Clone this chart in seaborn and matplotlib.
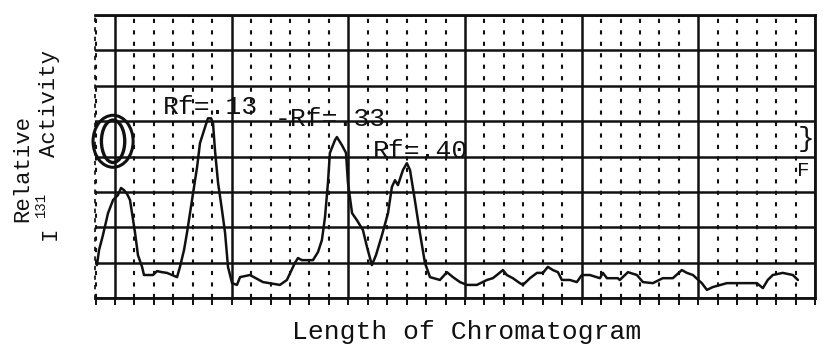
import matplotlib
matplotlib.use("Agg")
import matplotlib.pyplot as plt
from matplotlib.patches import Ellipse
import numpy as np
import seaborn as sns

# trace: position along the strip (minor grid units)
# and relative I-131 activity (major grid units)
length = [
    -0.93, -0.82, -0.62, -0.36, -0.10, 0.15, 0.31, 0.46, 0.62, 0.77,
    0.93, 1.03, 1.18, 1.39, 1.49, 1.95, 2.16, 2.42, 2.67, 2.93,
    3.19, 3.34, 3.55, 3.70, 3.96, 4.22, 4.37, 4.63, 4.78, 4.94,
    5.04, 5.14, 5.30, 5.50, 5.66, 5.81, 6.02, 6.27, 6.43, 6.94,
    7.61, 8.48, 8.84, 9.25, 9.41, 9.61, 10.18, 10.44, 10.64, 10.80,
    10.95, 11.05, 11.31, 11.41, 11.67, 11.88, 11.98, 12.19, 12.44, 12.75,
    12.96, 13.21, 13.42, 13.73, 14.04, 14.24, 14.40, 14.55, 14.81, 15.01,
    15.17, 15.42, 15.68, 15.94, 16.20, 16.71, 17.07, 17.38, 17.74, 18.10,
    18.61, 19.13, 19.43, 19.64, 19.95, 20.15, 20.46, 20.82, 20.98, 21.34,
    21.70, 22.01, 22.26, 22.52, 22.78, 22.98, 23.39, 23.75, 24.01, 24.42,
    24.94, 25.09, 25.30, 25.86, 25.96, 26.38, 26.84, 27.15, 27.66, 28.17,
    28.69, 29.15, 29.41, 29.72, 30.18, 30.44, 30.75, 31.47, 32.29, 33.01,
    33.32, 33.57, 33.83, 34.34, 34.86, 35.12,
]
activity = [
    0.93, 1.36, 1.78, 2.40, 2.77, 2.91, 3.11, 3.05, 2.94, 2.77,
    2.20, 1.84, 1.21, 0.88, 0.65, 0.65, 0.76, 0.73, 0.71, 0.65,
    0.59, 0.88, 1.36, 1.84, 2.77, 3.70, 4.38, 4.83, 5.08, 5.08,
    4.94, 4.18, 3.25, 2.49, 1.84, 0.88, 0.42, 0.37, 0.59, 0.65,
    0.45, 0.37, 0.51, 0.99, 1.13, 1.07, 1.07, 1.30, 1.64, 2.29,
    3.25, 4.10, 4.46, 4.55, 4.32, 4.10, 3.25, 2.40, 2.20, 1.92,
    1.44, 0.93, 1.21, 1.78, 2.40, 3.14, 3.33, 3.19, 3.62, 3.81,
    3.62, 2.77, 1.84, 0.99, 0.59, 0.51, 0.73, 0.59, 0.45, 0.37,
    0.37, 0.51, 0.56, 0.65, 0.79, 0.65, 0.56, 0.42, 0.37, 0.56,
    0.71, 0.71, 0.88, 0.79, 0.73, 0.51, 0.51, 0.45, 0.65, 0.65,
    0.56, 0.71, 0.56, 0.56, 0.51, 0.73, 0.65, 0.45, 0.42, 0.56,
    0.56, 0.79, 0.71, 0.65, 0.42, 0.23, 0.31, 0.42, 0.42, 0.42,
    0.28, 0.51, 0.65, 0.71, 0.65, 0.51,
]

# Rf labels: text, left edge, centre height
rf_labels = ["Rf=.13", "-Rf=.33", "Rf=.40"]
rf_x = [2.47, 8.2, 13.26]
rf_y = [5.40, 5.06, 4.15]

sns.set_theme(style="white")
plt.rcParams["font.family"] = ["Liberation Mono", "DejaVu Sans Mono"]

fig = plt.figure(figsize=(8.23, 3.45), dpi=100)
ax = fig.add_axes([95 / 823, 1 - 298 / 345, 720 / 823, 283 / 345])

ink = "#111111"
sns.lineplot(x=length, y=activity, sort=False, estimator=None,
             color=ink, linewidth=1.8, ax=ax)

ax.set_xlim(-1.03, 36)
ax.set_ylim(0, 8)
ax.set_xticks(np.arange(0, 37, 6))
ax.set_xticks(np.arange(-1, 37, 1), minor=True)
ax.set_yticks(np.arange(0, 9, 1))
ax.grid(which="major", axis="both", color=ink, linewidth=1.8)
ax.grid(which="minor", axis="x", color=ink, linewidth=1.5,
        linestyle=(0, (2, 3.5)))
ax.set_axisbelow(True)
ax.tick_params(axis="x", which="both", direction="out", length=5,
               width=1.4, color=ink, labelbottom=False, bottom=True)
ax.tick_params(axis="y", which="both", left=False, labelleft=False)
for side in ["top", "bottom", "right"]:
    ax.spines[side].set_color(ink)
    ax.spines[side].set_linewidth(2.0)
ax.spines["left"].set_color(ink)
ax.spines["left"].set_linestyle((0, (1.5, 4)))
ax.set_xlabel("")
ax.set_ylabel("")

for label, x, y in zip(rf_labels, rf_x, rf_y):
    ax.text(x, y, label, ha="left", va="center", fontsize=19, color=ink)

# origin mark and solvent front
ax.add_patch(Ellipse((-0.10, 4.43), 2.06, 1.47, fill=False,
                     edgecolor=ink, linewidth=2.2, clip_on=False))
ax.add_patch(Ellipse((-0.10, 4.43), 1.2, 1.2, fill=False,
                     edgecolor=ink, linewidth=2.4, clip_on=False))
ax.text(35.55, 4.5, "}", ha="center", va="center", fontsize=20,
        color=ink, clip_on=False)
ax.text(35.4, 3.6, "F", ha="center", va="center", fontsize=15,
        color=ink, clip_on=False)

fig.text(467 / 823, 1 - 332 / 345, "Length of Chromatogram",
         ha="center", va="center", fontsize=19, color=ink)
fig.text(23 / 823, 1 - 222 / 345, "Relative", rotation=90,
         ha="center", va="bottom", fontsize=16, color=ink)
fig.text(50 / 823, 1 - 240 / 345, "I", rotation=90,
         ha="center", va="bottom", fontsize=16, color=ink)
fig.text(41 / 823, 1 - 217 / 345, "131", rotation=90,
         ha="center", va="bottom", fontsize=10, color=ink)
fig.text(49 / 823, 1 - 157 / 345, "Activity", rotation=90,
         ha="center", va="bottom", fontsize=16, color=ink)

fig.savefig("out.png", dpi=100, facecolor="white")
plt.close(fig)
